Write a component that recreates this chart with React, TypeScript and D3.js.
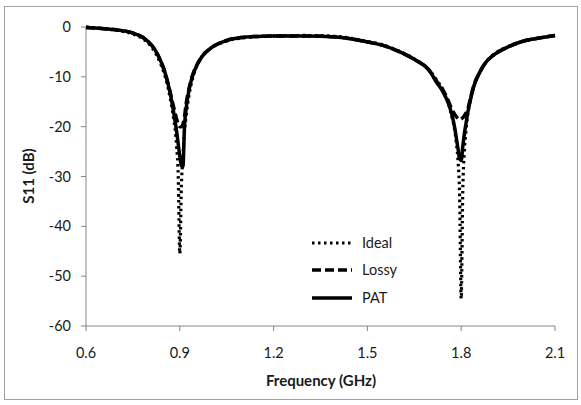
import React from "react";
import * as d3 from "d3";

const freq = [0.60, 0.65, 0.70, 0.75, 0.78, 0.80, 0.82, 0.84, 0.85, 0.86, 0.87, 0.88, 0.89, 0.895, 0.90, 0.905, 0.91, 0.915, 0.92, 0.93, 0.94, 0.95, 0.97, 1.00, 1.05, 1.10, 1.15, 1.20, 1.30, 1.40, 1.50, 1.55, 1.60, 1.65, 1.70, 1.72, 1.74, 1.76, 1.77, 1.78, 1.785, 1.79, 1.795, 1.80, 1.805, 1.81, 1.815, 1.82, 1.83, 1.84, 1.86, 1.88, 1.90, 1.95, 2.00, 2.05, 2.10];

const ideal = [0, -0.3, -0.7, -1.4, -2.3, -3.3, -5.0, -7.6, -9.3, -11.5, -14.5, -18.3, -24, -30, -45.5, -32, -26, -21, -18, -13.5, -10.5, -8.5, -6, -4.2, -2.8, -2.2, -1.9, -1.8, -1.7, -1.9, -2.9, -3.6, -4.8, -6.4, -8.8, -10.5, -12.5, -15.5, -18, -21, -23.5, -27, -34, -54.5, -33, -25, -21, -18, -14.5, -12, -9, -7, -5.7, -3.9, -2.8, -2.2, -1.7];

const lossy = [-0.1, -0.3, -0.6, -1.2, -2.0, -3.0, -4.5, -7.0, -8.6, -10.8, -13.3, -16, -18.5, -19.5, -20, -20, -19.5, -18, -15.5, -12.2, -9.8, -8.2, -6, -4.2, -2.7, -2.1, -1.9, -1.8, -1.8, -2.0, -3.0, -3.7, -4.9, -6.5, -8.9, -10.8, -12.4, -15, -16.5, -17.6, -18, -18.4, -18.6, -18.5, -18.2, -17.8, -17.3, -16.7, -14.2, -11.8, -9, -7, -5.8, -4.0, -2.8, -2.2, -1.7];

const pat = [-0.1, -0.3, -0.6, -1.2, -2.0, -3.0, -4.5, -7.0, -8.6, -10.8, -13.5, -17, -21, -23.5, -26, -27.8, -28, -20, -16.5, -12.5, -10, -8.3, -6, -4.2, -2.7, -2.1, -1.9, -1.8, -1.8, -2.0, -3.0, -3.7, -4.9, -6.5, -8.9, -11, -12.8, -15.5, -17.5, -20.5, -22.5, -24.5, -26.5, -26.8, -24, -21.5, -19.5, -17.5, -14.5, -12, -9, -7, -5.8, -4.0, -2.8, -2.2, -1.7];

const xTicks = [0.6, 0.9, 1.2, 1.5, 1.8, 2.1];
const yTicks = [0, -10, -20, -30, -40, -50, -60];

const seriesNames = ["Ideal", "Lossy", "PAT"];
const seriesData = [ideal, lossy, pat];
const seriesDash = ["2.5 3.5", "9 4", "none"];

const W = 581;
const H = 405;
const FONT = "Lato, 'Open Sans', sans-serif";

export default function App() {
  const x = d3.scaleLinear().domain([0.6, 2.1]).range([86, 555]);
  const y = d3.scaleLinear().domain([0, -60]).range([27, 326]);
  const line = d3
    .line<number>()
    .x((_, i) => x(freq[i]))
    .y((d) => y(d))
    .curve(d3.curveMonotoneX);

  const axisColor = "#868686";
  const legendX = 312;
  const legendY = [243, 270, 298];

  return (
    <svg
      width={W}
      height={H}
      style={{ position: "absolute", left: 0, top: 0, background: "#fff" }}
    >
      <rect x={4.5} y={6.5} width={573} height={393} fill="#fff" stroke="#a0a0a0" />
      <line x1={x(0.6)} x2={x(0.6)} y1={y(0)} y2={y(-60)} stroke={axisColor} />
      <line x1={x(0.6)} x2={x(2.1)} y1={y(-60)} y2={y(-60)} stroke={axisColor} />
      {yTicks.map((t) => (
        <g key={"y" + t}>
          <line x1={x(0.6) - 5} x2={x(0.6)} y1={y(t)} y2={y(t)} stroke={axisColor} />
          <text
            x={71}
            y={y(t)}
            dy="0.35em"
            textAnchor="end"
            fontFamily={FONT}
            fontSize={14.5}
            fill="#1a1a1a"
          >
            {t}
          </text>
        </g>
      ))}
      {xTicks.map((t) => (
        <g key={"x" + t}>
          <line x1={x(t)} x2={x(t)} y1={y(-60)} y2={y(-60) + 5} stroke={axisColor} />
          <text
            x={x(t)}
            y={353}
            dy="0.35em"
            textAnchor="middle"
            fontFamily={FONT}
            fontSize={14.5}
            fill="#1a1a1a"
          >
            {t.toFixed(1)}
          </text>
        </g>
      ))}
      <text
        x={321}
        y={381}
        dy="0.35em"
        textAnchor="middle"
        fontFamily={FONT}
        fontWeight="bold"
        fontSize={15}
        fill="#1a1a1a"
      >
        Frequency (GHz)
      </text>
      <text
        transform={`translate(29,176) rotate(-90)`}
        dy="0.35em"
        textAnchor="middle"
        fontFamily={FONT}
        fontWeight="bold"
        fontSize={15}
        fill="#1a1a1a"
      >
        S11 (dB)
      </text>
      {seriesData.map((s, i) => (
        <path
          key={seriesNames[i]}
          d={line(s) || ""}
          fill="none"
          stroke="#000"
          strokeWidth={i === 0 ? 3.2 : 3.5}
          strokeDasharray={seriesDash[i]}
          strokeLinejoin="round"
        />
      ))}
      {seriesNames.map((n, i) => (
        <g key={"lg" + n}>
          <line
            x1={legendX}
            x2={legendX + 40}
            y1={legendY[i]}
            y2={legendY[i]}
            stroke="#000"
            strokeWidth={i === 0 ? 3.2 : 3.5}
            strokeDasharray={seriesDash[i]}
          />
          <text
            x={legendX + 50}
            y={legendY[i]}
            dy="0.35em"
            fontFamily={FONT}
            fontSize={14.5}
            fill="#1a1a1a"
          >
            {n}
          </text>
        </g>
      ))}
    </svg>
  );
}
